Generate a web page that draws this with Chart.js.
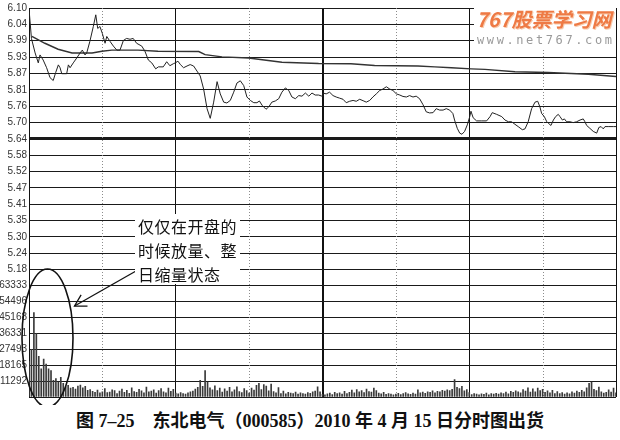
<!DOCTYPE html>
<html><head><meta charset="utf-8">
<script src="https://cdn.jsdelivr.net/npm/chart.js@4.4.1/dist/chart.umd.min.js"></script>
<style>
html,body{margin:0;padding:0;background:#fff;width:620px;height:440px;overflow:hidden;}
#wrap{position:relative;width:620px;height:440px;}
#c{position:absolute;left:0;top:0;}
#note{position:absolute;left:135px;top:214px;width:105px;height:70px;background:#fff;font-family:"Noto Sans CJK SC";font-size:16px;line-height:24px;color:#111;letter-spacing:0.5px;padding-left:3px;box-sizing:border-box;white-space:nowrap;}
#wm{position:absolute;left:474px;top:6px;width:142px;height:43px;background:#fff;}
#wm1{position:absolute;left:2px;top:1px;font-family:"Noto Sans CJK SC";font-weight:bold;font-style:italic;font-size:20px;line-height:24px;color:#ee7a45;letter-spacing:0px;text-shadow:1px 1px 0 #f8cdb0;white-space:nowrap;}
#wm2{position:absolute;left:3px;top:27px;font-family:"DejaVu Sans Mono";font-size:12px;line-height:14px;color:#9a9a9a;letter-spacing:2.6px;white-space:nowrap;}
#cap{position:absolute;left:0;top:409px;width:620px;text-align:center;font-family:"Liberation Serif","Noto Sans CJK SC";font-weight:bold;font-size:18px;line-height:24px;color:#111;white-space:nowrap;}
</style></head>
<body><div id="wrap">
<canvas id="c" width="620" height="405"></canvas>
<div id="note">仅仅在开盘的<br>时候放量、整<br>日缩量状态</div>
<div id="wm"><div id="wm1">767股票学习网</div><div id="wm2">www.net767.com</div></div>
<div id="cap">图 7–25　东北电气（000585）2010 年 4 月 15 日分时图出货</div>
</div>
<script>
// ---- data ----
const priceTime = [0,1,2.5,3.8,4.5,5.8,7.2,8.6,9.9,10.9,12,12.7,13.4,15.4,16.1,16.8,18.1,19.5,20.9,21.8,22.9,23.6,24.9,26.3,27.3,28.1,29,30,31.1,31.8,33.1,34.5,35.9,37.2,38.6,39.9,41.3,42.6,44,46.1,47.4,48.8,50.2,51.8,52.9,54.9,56.3,57.6,59,59.8,60.9,61.9,63.2,64.6,65.9,67.3,68.7,70,71.4,72.8,74.1,75.5,76.9,78.2,79.6,80.9,82.3,83.7,85,86.4,87.8,89.1,90.5,91.9,93.2,94.2,95.3,96.9,98,99.3,100.7,102.1,103.4,104.8,106.2,107.5,108.9,110.3,111.6,113,114.4,115.7,117,118.4,119.8,120.2,121.5,122.9,124.3,125.6,127,128.4,129.7,131.1,132.5,133.8,135.2,136.6,137.9,139.3,140.6,142,143.4,144.7,146.1,147.5,148.8,150.2,151.6,152.9,154.3,155.6,157,158.3,159.7,161.1,162.4,163.8,165.2,166.5,167.9,169.3,170.6,172,173.3,174,175.1,176.1,177,178.1,179.2,180.2,180.7,181.6,183,185.1,187.1,188.5,189.4,191.2,193.3,194.6,196,197.3,198.7,200,201.7,202.8,204.1,205.5,206.9,208,208.9,209.6,210.7,211.7,212.3,213.4,214.4,215.3,216.4,217.1,218.1,218.9,219.8,221.2,222.5,223.9,225.3,226.6,227.3,228,229.3,230.7,232.1,233,233.9,234.8,235.5,236.8,238.9,240];
const priceValue = [6.097,5.993,5.942,5.907,5.935,5.917,5.890,5.855,5.845,5.873,5.900,5.890,5.869,5.869,5.900,5.890,5.907,5.924,5.942,5.952,5.935,5.942,5.983,6.035,6.076,6.028,6.035,6.010,5.976,6.000,5.983,5.966,5.952,5.952,5.986,5.993,5.990,5.993,5.976,5.966,5.948,5.917,5.907,5.886,5.893,5.893,5.911,5.897,5.904,5.907,5.913,5.901,5.890,5.896,5.901,5.896,5.878,5.861,5.815,5.746,5.712,5.769,5.841,5.798,5.769,5.766,5.775,5.804,5.836,5.844,5.827,5.787,5.775,5.767,5.767,5.773,5.758,5.744,5.752,5.769,5.773,5.781,5.804,5.819,5.810,5.787,5.781,5.792,5.790,5.801,5.790,5.801,5.794,5.794,5.790,5.801,5.798,5.804,5.792,5.787,5.783,5.779,5.767,5.772,5.775,5.772,5.779,5.774,5.769,5.775,5.787,5.798,5.810,5.815,5.823,5.815,5.810,5.798,5.794,5.789,5.787,5.792,5.787,5.790,5.781,5.760,5.735,5.731,5.732,5.746,5.741,5.741,5.746,5.741,5.729,5.706,5.677,5.660,5.656,5.666,5.689,5.718,5.737,5.714,5.703,5.703,5.703,5.718,5.732,5.726,5.718,5.706,5.700,5.700,5.691,5.683,5.672,5.675,5.700,5.746,5.769,5.772,5.752,5.729,5.718,5.700,5.695,5.687,5.706,5.718,5.726,5.718,5.706,5.710,5.700,5.700,5.697,5.700,5.706,5.710,5.700,5.687,5.677,5.666,5.660,5.680,5.683,5.675,5.683,5.683,5.683,5.683];
const avgTime = [1.2,6.5,11.9,17.6,25.8,29.8,33.9,44.6,52.7,69.4,72,78.9,89.8,103.4,118.4,131.6,141.3,159,165.9,172.7,180.8,186.4,198.7,212.2,228.7,240];
const avgValue = [6.000,5.976,5.955,5.942,5.942,5.948,5.952,5.952,5.948,5.947,5.936,5.928,5.924,5.909,5.905,5.904,5.898,5.896,5.893,5.890,5.886,5.884,5.876,5.873,5.867,5.859];
const volume = [
 20000,27000,47900,36000,23000,16000,21500,18700,16000,14900,9400,10500,8500,11200,7700,5700,6600,5100,5500,4500,
 6200,6800,5200,6000,3800,4200,3200,2600,3900,2400,
 3000,4700,2500,2800,4000,3600,1900,3300,4500,2700,
 3800,2100,5200,3100,2600,4400,3500,2300,5600,2900,
 3400,4100,2200,3700,4800,3000,2400,5000,3200,4300,
 2200,1800,2500,2000,1600,2400,2900,3300,4500,5500,
 9400,6000,14900,8500,5200,4100,6300,3600,5000,2800,
 4600,3300,5500,2900,4000,5800,3100,2500,4700,3600,2200,5100,3900,
 6600,7700,4200,7000,6200,3500,7300,
 3100,2400,5400,2000,3300,1800,2600,2200,1900,2800,1700,2300,2000,1600,2500,2100,2900,3400,5700,
 3000,
 1500,1200,1800,2200,1400,2600,1900,2400,1700,3200,
 2000,2700,3900,2300,4200,2900,3700,2500,4500,3100,
 2800,5000,3600,2200,1800,2600,1500,2000,1700,1300,
 1600,2100,1400,1900,2500,1800,1500,2200,1700,4000,
 2300,2800,2100,3000,2600,3500,2400,3200,2900,3800,3300,4100,3600,4400,
 9900,5500,4800,6000,3500,4200,2500,
 1400,2000,1600,1200,1800,1500,2200,1300,1900,1600,
 2100,1700,2400,2000,2800,1800,3200,2600,3500,2900,
 2300,4200,3300,5200,2800,4600,3000,5000,3700,4300,
 2700,3500,2400,3800,2000,3100,1900,2500,1600,2300,
 1800,2900,2200,3400,2600,3800,3000,
 5200,7700,8400,4400,3600,5600,3000,2200,2600,4100,2800,5000,2400];
const priceTickLabels = ["6.10","6.04","5.99","5.93","5.87","5.81","5.76","5.70","5.64","5.58","5.52","5.47","5.41","5.35","5.30","5.24","5.18"];
const volumeTickLabels = ["","63333","54496","45168","36331","27493","18165","11292",""];
const PREV_CLOSE = 5.64;
const PRICE_MAX = 6.10, PRICE_MIN = 5.18, VOL_MAX = 72170;
const solidMinutes = [0,60,120,180,240];
const dottedMinutes = [30,90,150,210];

// ---- build ----
const priceAsc = priceTickLabels.slice().reverse();
const volAsc = volumeTickLabels.slice().reverse();
const priceData = priceTime.map((t,i)=>({x:t,y:priceValue[i]}));
const avgData = avgTime.map((t,i)=>({x:t,y:avgValue[i]}));
const volData = volume.map((v,i)=>({x:i,y:v}));

const overlay = {
  id:'overlay',
  beforeDatasetsDraw(chart){
    const {ctx, chartArea:a, scales:{x}} = chart;
    ctx.save();
    ctx.strokeStyle='#8c8c8c'; ctx.lineWidth=1; ctx.setLineDash([1,2]);
    dottedMinutes.forEach(m=>{const px=Math.round(x.getPixelForValue(m))+0.5;ctx.beginPath();ctx.moveTo(px,a.top);ctx.lineTo(px,a.bottom);ctx.stroke();});
    ctx.restore();
  },
  afterDraw(chart){
    const {ctx, chartArea:a} = chart;
    ctx.save();
    ctx.strokeStyle='#111'; ctx.lineWidth=1.6;
    ctx.beginPath();
    ctx.ellipse(a.left+18.5, a.top+330, 25.5, 69, 0, 0, Math.PI*2);
    ctx.stroke();
    const tx=a.left+45.5, ty=a.top+298, sx=a.left+107, sy=a.top+263;
    ctx.lineWidth=1.3;
    ctx.beginPath(); ctx.moveTo(sx,sy); ctx.lineTo(tx,ty); ctx.stroke();
    const ang=Math.atan2(sy-ty,sx-tx), L=13;
    ctx.beginPath();
    ctx.moveTo(tx+L*Math.cos(ang-0.52),ty+L*Math.sin(ang-0.52));
    ctx.lineTo(tx,ty);
    ctx.lineTo(tx+L*Math.cos(ang+0.52),ty+L*Math.sin(ang+0.52));
    ctx.stroke();
    ctx.restore();
  }
};

const tickFont = {family:'Liberation Sans', size:10};
new Chart(document.getElementById('c'), {
  type:'bar',
  data:{datasets:[
    {type:'line', data:priceData, yAxisID:'yPrice', xAxisID:'x', borderColor:'#222', borderWidth:1, pointRadius:0, tension:0, order:1},
    {type:'line', data:avgData, yAxisID:'yPrice', xAxisID:'x', borderColor:'#333', borderWidth:1.4, pointRadius:0, tension:0, order:2},
    {type:'bar', data:volData, yAxisID:'yVol', xAxisID:'x', backgroundColor:'#3a3a3a', barThickness:1, borderWidth:0, order:3}
  ]},
  options:{
    responsive:false, animation:false, events:[],
    layout:{padding:{left:0,top:4,right:4,bottom:3}},
    plugins:{legend:{display:false}, tooltip:{enabled:false}},
    scales:{
      x:{type:'linear', min:0, max:240, offset:false,
        ticks:{display:false, stepSize:30},
        grid:{offset:false, drawTicks:false,
          color:c=> (c.tick && solidMinutes.includes(c.tick.value)) ? '#111' : 'rgba(0,0,0,0)',
          lineWidth:c=> (c.tick && c.tick.value===120) ? 2 : 1},
        border:{display:false}},
      yVol:{type:'linear', position:'left', stack:'main', stackWeight:1, min:0, max:VOL_MAX,
        afterBuildTicks:s=>{s.ticks = volAsc.map((l,i)=>({value:i*VOL_MAX/8}));},
        afterFit:s=>{s.width=29;},
        ticks:{autoSkip:false, padding:2, font:tickFont, color:'#333', callback:(v,i)=>volAsc[i]},
        grid:{drawTicks:false, color:'#1a1a1a', lineWidth:1},
        border:{color:'#111', width:1}},
      yPrice:{type:'linear', position:'left', stack:'main', stackWeight:2.054, min:PRICE_MIN, max:PRICE_MAX,
        afterBuildTicks:s=>{s.ticks = priceAsc.map((l,i)=>({value:PRICE_MIN+i*(PRICE_MAX-PRICE_MIN)/16}));},
        afterFit:s=>{s.width=29;},
        ticks:{autoSkip:false, padding:2, font:tickFont, color:'#333', callback:(v,i)=>priceAsc[i]},
        grid:{drawTicks:false, color:'#1a1a1a', lineWidth:c=> (c.tick && Math.abs(c.tick.value-PREV_CLOSE)<0.01) ? 3 : 1},
        border:{color:'#111', width:1}}
    }
  },
  plugins:[overlay]
});
</script>
</body></html>
